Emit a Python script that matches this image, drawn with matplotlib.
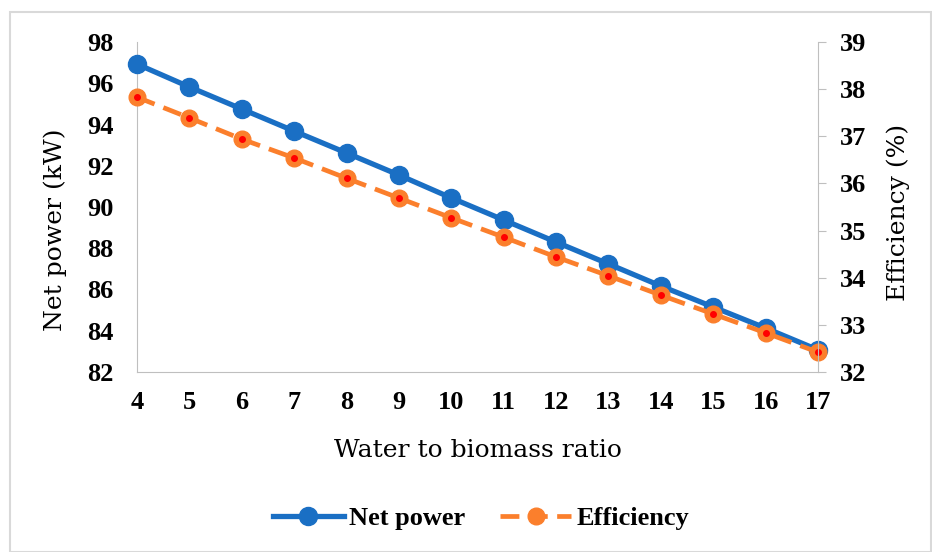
import matplotlib.pyplot as plt
from matplotlib.patches import Rectangle

# Data
ratio = [4, 5, 6, 7, 8, 9, 10, 11, 12, 13, 14, 15, 16, 17]
net_power = [96.93, 95.82, 94.75, 93.68, 92.62, 91.55, 90.44,
             89.37, 88.30, 87.24, 86.17, 85.15, 84.13, 83.07]
efficiency = [37.83, 37.39, 36.94, 36.54, 36.11, 35.69, 35.27,
              34.86, 34.44, 34.04, 33.63, 33.23, 32.83, 32.42]

blue = '#1a6fc4'
orange = '#fb7f2c'
grey = '#bfbfbf'
label_font = {'family': 'DejaVu Serif', 'size': 18}

fig = plt.figure(figsize=(9.32, 5.52), dpi=100)
ax = fig.add_axes([137 / 932, 1 - 372 / 552, (818 - 137) / 932, (372 - 42) / 552])
ax2 = ax.twinx()

# outer frame
fig.patches.append(Rectangle((10 / 932, 0), 921 / 932, 1 - 12 / 552, transform=fig.transFigure,
                             fill=False, edgecolor='#d9d9d9', linewidth=1.5))

l1, = ax.plot(ratio, net_power, color=blue, linewidth=3.8, marker='o', markersize=13,
              markerfacecolor=blue, markeredgecolor=blue, label='Net power', zorder=3)
l2, = ax2.plot(ratio, efficiency, color=orange, linewidth=3.4, linestyle=(0, (4, 2)), marker='o',
               markersize=12, markerfacecolor=orange, markeredgecolor=orange, label='Efficiency')
ax2.plot(ratio, efficiency, linestyle='none', marker='o', markersize=4, color='red')

ax.set_xlim(4, 17)
ax.set_ylim(82, 98)
ax.set_yticks(range(82, 99, 2))
ax2.set_ylim(32, 39)
ax2.set_yticks(range(32, 40))
ax.set_xticks(ratio)

for a in (ax, ax2):
    for s in a.spines.values():
        s.set_visible(False)
ax.spines['left'].set_visible(True)
ax.spines['left'].set_color(grey)
ax.spines['bottom'].set_visible(True)
ax.spines['bottom'].set_color(grey)
ax2.spines['right'].set_visible(True)
ax2.spines['right'].set_color(grey)
for ln in ax.lines + ax2.lines:
    ln.set_clip_on(False)

ax.tick_params(axis='x', length=0, pad=14)
ax.tick_params(axis='y', length=0, pad=17)
ax2.tick_params(axis='y', length=6, color=grey, pad=10)
for lab in ax.get_xticklabels() + ax.get_yticklabels() + ax2.get_yticklabels():
    lab.set_family('Liberation Serif')
    lab.set_fontsize(19)
    lab.set_fontweight('bold')

ax.set_xlabel('Water to biomass ratio', fontdict=label_font, labelpad=18)
ax.set_ylabel('Net power (kW)', fontdict=label_font)
ax2.set_ylabel('Efficiency (%)', fontdict=label_font)
ax.yaxis.set_label_coords(-70 / 681, 0.43)
ax2.yaxis.set_label_coords(1 + 68 / 681, 0.485)

fig.legend(handles=[l1, l2], loc='center', bbox_to_anchor=(481 / 932, 1 - 518 / 552), ncol=2,
           frameon=False, prop={'family': 'Liberation Serif', 'weight': 'bold', 'size': 19},
           handlelength=2.7, columnspacing=1.3, handletextpad=0.2)

fig.savefig('out.png', dpi=100)
